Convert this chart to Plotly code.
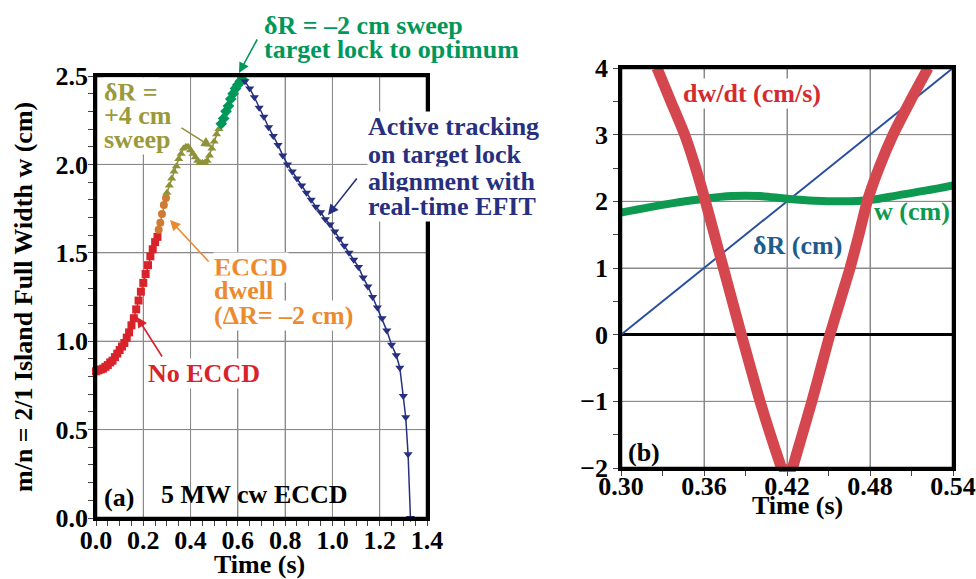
import plotly.graph_objects as go

# ---------------- Panel (a) data ----------------
t_no_eccd = [0.00, 0.01, 0.02, 0.03, 0.04, 0.05, 0.06, 0.07, 0.08, 0.09, 0.10, 0.11, 0.12, 0.13,
             0.14, 0.15, 0.16, 0.17, 0.18, 0.19, 0.20, 0.21, 0.22, 0.23, 0.24, 0.25, 0.26]
w_no_eccd = [0.83, 0.835, 0.84, 0.845, 0.855, 0.865, 0.88, 0.89, 0.91, 0.93, 0.95, 0.97, 0.99, 1.02,
             1.05, 1.09, 1.13, 1.18, 1.23, 1.28, 1.33, 1.38, 1.43, 1.48, 1.52, 1.56, 1.59]

t_dwell = [0.265, 0.272, 0.279, 0.287, 0.296]
w_dwell = [1.63, 1.67, 1.72, 1.77, 1.81]

t_sweep4 = [0.30, 0.31, 0.32, 0.33, 0.34, 0.35, 0.36, 0.37, 0.38, 0.39, 0.40, 0.41, 0.42, 0.43,
            0.44, 0.45, 0.46, 0.47, 0.48, 0.49, 0.50, 0.51, 0.52]
w_sweep4 = [1.84, 1.88, 1.92, 1.96, 1.99, 2.03, 2.06, 2.09, 2.10, 2.10, 2.08, 2.06, 2.04, 2.02,
            2.01, 2.01, 2.01, 2.02, 2.05, 2.09, 2.13, 2.17, 2.20]

t_sweep2 = [0.53, 0.54, 0.55, 0.56, 0.57, 0.58, 0.59, 0.60, 0.61, 0.62]
w_sweep2 = [2.23, 2.26, 2.30, 2.33, 2.37, 2.40, 2.43, 2.45, 2.47, 2.48]

t_track = [0.63, 0.65, 0.67, 0.69, 0.71, 0.73, 0.75, 0.77, 0.79, 0.81, 0.83, 0.85, 0.87, 0.89,
           0.91, 0.93, 0.95, 0.97, 0.99, 1.01, 1.03, 1.05, 1.07, 1.09, 1.11, 1.13, 1.15, 1.17,
           1.19, 1.21, 1.23, 1.25, 1.27, 1.285, 1.30, 1.31, 1.32, 1.33]
w_track = [2.47, 2.43, 2.38, 2.32, 2.27, 2.21, 2.16, 2.11, 2.05, 2.00, 1.96, 1.92, 1.88, 1.84,
           1.80, 1.76, 1.73, 1.69, 1.66, 1.62, 1.58, 1.54, 1.50, 1.46, 1.42, 1.36, 1.31, 1.25,
           1.19, 1.13, 1.06, 0.98, 0.92, 0.85, 0.69, 0.57, 0.36, 0.0]

# ---------------- Panel (b) data ----------------
t_dR = [0.30, 0.54]
dR = [0.0, 4.0]

t_w = [0.30, 0.32, 0.34, 0.36, 0.38, 0.40, 0.42, 0.44, 0.46, 0.48, 0.50, 0.52, 0.54]
w_b = [1.83, 1.91, 1.98, 2.04, 2.08, 2.08, 2.04, 2.01, 2.00, 2.02, 2.09, 2.16, 2.24]

t_dwdt = [0.326, 0.336, 0.346, 0.354, 0.361, 0.3675, 0.374, 0.3805, 0.387, 0.3937, 0.4005, 0.408,
          0.416, 0.4205, 0.424, 0.431, 0.438, 0.4445, 0.451, 0.4583, 0.4656, 0.472, 0.478, 0.4865,
          0.4967, 0.509, 0.522]
dwdt = [4.0, 3.5, 3.0, 2.5, 2.0, 1.5, 1.0, 0.5, 0.0, -0.5, -1.0, -1.5,
        -2.0, -2.28, -2.0, -1.5, -1.0, -0.5, 0.0, 0.5, 1.0, 1.5, 2.0, 2.5,
        3.0, 3.5, 4.0]
t_dwdt_tip = [0.417, 0.419, 0.4205, 0.422, 0.4235]
dwdt_tip = [-2.0, -2.14, -2.28, -2.14, -2.0]

x_grid_a = [0.2, 0.4, 0.6, 0.8, 1.0, 1.2]
y_grid_a = [0.5, 1.0, 1.5, 2.0]
x_grid_b = [0.36, 0.42, 0.48]
y_grid_b = [-1, 1, 2, 3]

# ---------------- styling ----------------
FONT = "Liberation Serif, Times New Roman, serif"
FS = 26
W, H = 976, 579

RED = "#d9232b"
ORANGE_M = "#cf7b34"
ORANGE_T = "#ec8a2e"
OLIVE_M = "#8e9238"
OLIVE_T = "#9a9a3c"
GREEN = "#00985a"
NAVY = "#27307f"
RED_B = "#d5474f"
RED_BT = "#d42b2f"
BLUE_L = "#2b4f9e"
BLUE_T = "#1d5c8c"
GREEN_B = "#0d9a50"
GRID = "#8a8a8a"


def P(px, py):
    return px / W, 1 - py / H


fig = go.Figure()

# panel (a) traces
fig.add_trace(go.Scatter(x=t_no_eccd, y=w_no_eccd, mode="lines+markers",
                         line=dict(color=RED, width=1.5),
                         marker=dict(symbol="square", size=8, color=RED),
                         cliponaxis=False, xaxis="x", yaxis="y"))
fig.add_trace(go.Scatter(x=t_dwell, y=w_dwell, mode="lines+markers",
                         line=dict(color=ORANGE_M, width=1.5),
                         marker=dict(symbol="circle", size=8, color=ORANGE_M),
                         cliponaxis=False, xaxis="x", yaxis="y"))
fig.add_trace(go.Scatter(x=t_sweep4, y=w_sweep4, mode="lines+markers",
                         line=dict(color=OLIVE_M, width=1.5),
                         marker=dict(symbol="triangle-up", size=8, color=OLIVE_M),
                         cliponaxis=False, xaxis="x", yaxis="y"))
fig.add_trace(go.Scatter(x=t_sweep2, y=w_sweep2, mode="lines+markers",
                         line=dict(color=GREEN, width=1.5),
                         marker=dict(symbol="diamond", size=9, color=GREEN),
                         cliponaxis=False, xaxis="x", yaxis="y"))
fig.add_trace(go.Scatter(x=t_track, y=w_track, mode="lines+markers",
                         line=dict(color=NAVY, width=1.5),
                         marker=dict(symbol="triangle-down", size=8, color=NAVY),
                         cliponaxis=False, xaxis="x", yaxis="y"))

# panel (b) traces
fig.add_trace(go.Scatter(x=t_dR, y=dR, mode="lines",
                         line=dict(color=BLUE_L, width=2), xaxis="x2", yaxis="y2"))
fig.add_trace(go.Scatter(x=t_w, y=w_b, mode="lines",
                         line=dict(color=GREEN_B, width=8, shape="spline"),
                         xaxis="x2", yaxis="y2"))
fig.add_trace(go.Scatter(x=t_dwdt, y=dwdt, mode="lines",
                         line=dict(color=RED_B, width=11, shape="spline", smoothing=0.5),
                         xaxis="x2", yaxis="y2"))
fig.add_trace(go.Scatter(x=t_dwdt_tip, y=dwdt_tip, mode="markers",
                         marker=dict(symbol="square", size=8, color=RED_B),
                         cliponaxis=False, xaxis="x2", yaxis="y2"))

tickfont = dict(family=FONT, size=FS, color="black", weight="bold")
common = dict(showline=True, linecolor="black", linewidth=2.5, mirror=True,
              ticks="outside", ticklen=5, tickwidth=1, tickcolor="#444",
              showgrid=True, gridcolor=GRID, gridwidth=1,
              tickfont=tickfont, zeroline=False, fixedrange=True,
              automargin=False, tickmode="linear")

fig.update_layout(
    template="none",
    width=W, height=H,
    margin=dict(l=0, r=0, t=0, b=0, pad=0),
    paper_bgcolor="white", plot_bgcolor="white",
    showlegend=False,
    xaxis=dict(domain=[96 / W, 427 / W], range=[0, 1.4], tick0=0, dtick=0.2,
               tickformat=".1f", anchor="y", ticklabelstandoff=-8,
               minor=dict(dtick=0.05, ticks="outside", ticklen=5, tickcolor="#444",
                          showgrid=False),
               **common),
    yaxis=dict(domain=[1 - 518 / H, 1 - 76 / H], range=[0, 2.5], tick0=0, dtick=0.5,
               tickformat=".1f", anchor="x", ticklabelstandoff=-5,
               minor=dict(dtick=0.1, ticks="outside", ticklen=5, tickcolor="#444",
                          showgrid=False),
               **common),
    xaxis2=dict(domain=[621 / W, 953 / W], range=[0.30, 0.54], tick0=0.30, dtick=0.06,
                tickformat=".2f", anchor="y2", ticklabelstandoff=-12,
                minor=dict(dtick=0.03, ticks="outside", ticklen=5, tickcolor="#444",
                           showgrid=False),
                **common),
    yaxis2=dict(domain=[1 - 468 / H, 1 - 68 / H], range=[-2, 4], tick0=0, dtick=1,
                anchor="x2", zeroline=True, zerolinecolor="black", zerolinewidth=2.5,
                minor=dict(dtick=0.5, ticks="outside", ticklen=5, tickcolor="#444",
                           showgrid=False),
                **{k: v for k, v in common.items() if k != "zeroline"}),
)

# grid and frame drawn again through the axes (same positions as the axis grid)
shapes = []
for v in x_grid_a:
    shapes.append(dict(type="line", xref="x", yref="y domain", x0=v, x1=v, y0=0, y1=1,
                       line=dict(color=GRID, width=1), layer="below"))
for v in y_grid_a:
    shapes.append(dict(type="line", xref="x domain", yref="y", x0=0, x1=1, y0=v, y1=v,
                       line=dict(color=GRID, width=1), layer="below"))
for v in x_grid_b:
    shapes.append(dict(type="line", xref="x2", yref="y2 domain", x0=v, x1=v, y0=0, y1=1,
                       line=dict(color=GRID, width=1), layer="below"))
for v in y_grid_b:
    shapes.append(dict(type="line", xref="x2 domain", yref="y2", x0=0, x1=1, y0=v, y1=v,
                       line=dict(color=GRID, width=1), layer="below"))
shapes.append(dict(type="rect", xref="x domain", yref="y domain", x0=0, x1=1, y0=0, y1=1,
                   line=dict(color="black", width=2.5), layer="above"))
shapes.append(dict(type="rect", xref="x2 domain", yref="y2 domain", x0=0, x1=1, y0=0, y1=1,
                   line=dict(color="black", width=2.5), layer="above"))
fig.update_layout(shapes=shapes)

annos = []


def text(px, py, s, color, bg=False, size=FS, xanchor="left", angle=0):
    x, y = P(px, py)
    d = dict(x=x, y=y, xref="paper", yref="paper", text="<b>" + s + "</b>", showarrow=False,
             xanchor=xanchor, yanchor="middle", textangle=angle,
             font=dict(family=FONT, size=size, color=color), borderpad=0)
    if bg:
        d["bgcolor"] = "white"
    annos.append(d)


def arrow(hx, hy, tx, ty, color):
    x, y = P(hx, hy)
    annos.append(dict(x=x, y=y, xref="paper", yref="paper", text="", showarrow=True,
                      ax=tx - hx, ay=ty - hy, axref="pixel", ayref="pixel",
                      arrowhead=2, arrowsize=1.3, arrowwidth=1.6, arrowcolor=color))


# panel (a) annotations
text(263, 25, "δR = –2 cm sweep", GREEN)
text(263, 49, "target lock to optimum", GREEN)
arrow(239, 73, 258, 38, GREEN)

text(103, 92, "δR =", OLIVE_T, bg=True)
text(103, 116, "+4 cm", OLIVE_T, bg=True)
text(103, 139, "sweep", OLIVE_T, bg=True)
arrow(212, 147, 180, 127, OLIVE_M)

text(367, 127, "Active tracking", NAVY, bg=True)
text(367, 154, "on target lock", NAVY, bg=True)
text(367, 181, "alignment with", NAVY, bg=True)
text(367, 207, "real-time EFIT", NAVY, bg=True)
arrow(328, 215, 358, 177, NAVY)

text(213, 267, "ECCD", ORANGE_T, bg=True)
text(213, 290, "dwell", ORANGE_T, bg=True)
text(213, 315, "(ΔR= –2 cm)", ORANGE_T, bg=True)
arrow(170, 220, 210, 263, ORANGE_T)

text(147, 373, "No ECCD", RED, bg=True)
arrow(137, 317, 163, 358, RED)

text(103, 497, "(a)", "black")
text(160, 494, "5 MW cw ECCD", "black")

# axis titles
text(23, 297, "m/n = 2/1 Island Full Width w (cm)", "black", xanchor="center", angle=-90)
text(259, 564, "Time (s)", "black", xanchor="center")
text(797, 505, "Time (s)", "black", xanchor="center")

# panel (b) annotations
text(682, 93, "dw/dt (cm/s)", RED_BT, bg=True)
text(752, 245, "δR (cm)", BLUE_T)
text(873, 211, "w (cm)", GREEN_B)
text(627, 452, "(b)", "black")

fig.update_layout(annotations=annos)

fig.write_html("out.html")
